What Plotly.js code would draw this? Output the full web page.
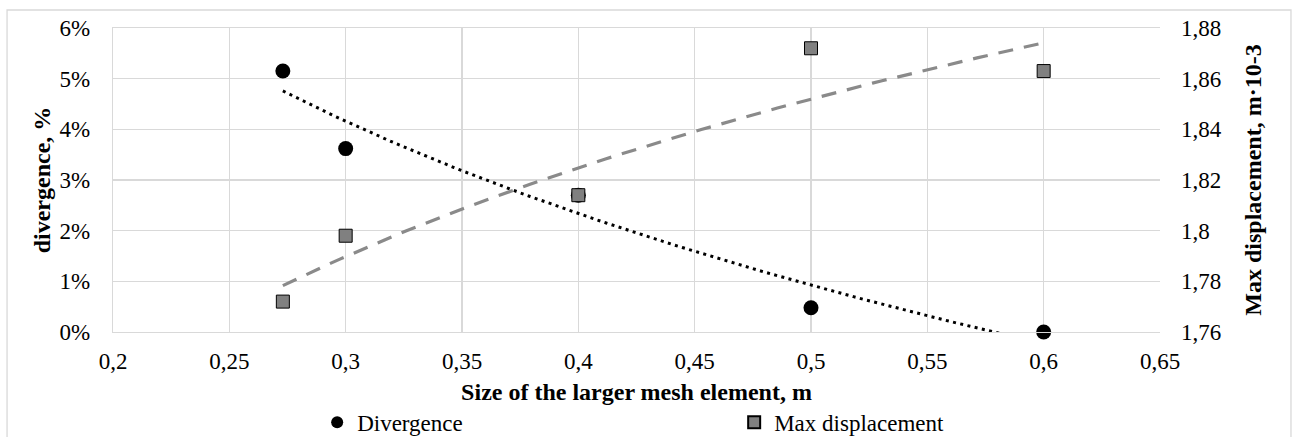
<!DOCTYPE html>
<html>
<head>
<meta charset="utf-8">
<script src="https://cdn.plot.ly/plotly-3.0.1.min.js"></script>
<style>html,body{margin:0;padding:0;background:#fff;}#chart{width:1296px;height:437px;}</style>
</head>
<body>
<div id="chart"></div>
<script>
// Data
const meshSize = [0.273, 0.3, 0.4, 0.5, 0.6];
const divergence = [0.0515, 0.0362, 0.027, 0.0048, 0.0];
const maxDisplacement = [1.772, 1.798, 1.814, 1.872, 1.863];
const xTicks = [0.2, 0.25, 0.3, 0.35, 0.4, 0.45, 0.5, 0.55, 0.6, 0.65];

// Logarithmic trendline (least squares of y on ln x), as in the source spreadsheet
function logTrend(xs, ys) {
  const L = xs.map(Math.log);
  const n = xs.length;
  const mL = L.reduce((a, b) => a + b, 0) / n;
  const mY = ys.reduce((a, b) => a + b, 0) / n;
  let sxy = 0, sxx = 0;
  for (let i = 0; i < n; i++) { sxy += (L[i] - mL) * (ys[i] - mY); sxx += (L[i] - mL) * (L[i] - mL); }
  const b = sxy / sxx, a = mY - b * mL;
  const x0 = Math.min(...xs), x1 = Math.max(...xs);
  const tx = [], ty = [];
  const N = 80;
  for (let k = 0; k <= N; k++) { const x = x0 + (x1 - x0) * k / N; tx.push(x); ty.push(a + b * Math.log(x)); }
  return {x: tx, y: ty};
}
const tDiv = logTrend(meshSize, divergence);
const tDisp = logTrend(meshSize, maxDisplacement);

const FONT = "'Liberation Serif', 'Times New Roman', serif";
const GRID = '#d9d9d9';

const traces = [
  {x: tDiv.x, y: tDiv.y, type: 'scatter', mode: 'lines', yaxis: 'y', showlegend: false, hoverinfo: 'skip',
   line: {color: '#000', width: 3, dash: '3px,4.4px'}},
  {x: meshSize, y: divergence, type: 'scatter', mode: 'markers', name: 'Divergence', yaxis: 'y', cliponaxis: false,
   marker: {symbol: 'circle', size: 15, color: '#000'}},
  {x: tDisp.x, y: tDisp.y, type: 'scatter', mode: 'lines', yaxis: 'y2', showlegend: false, hoverinfo: 'skip',
   line: {color: '#8a8a8a', width: 3.2, dash: '15px,11px'}},
  {x: meshSize, y: maxDisplacement, type: 'scatter', mode: 'markers', name: 'Max displacement', yaxis: 'y2', cliponaxis: false,
   marker: {symbol: 'square', size: 13, color: '#808080', line: {color: '#000', width: 1}}}
];

const layout = {
  width: 1296, height: 437,
  margin: {l: 113, r: 136, t: 28, b: 105, autoexpand: false},
  paper_bgcolor: '#fff', plot_bgcolor: '#fff',
  separators: ', ',
  font: {family: FONT, size: 23, color: '#000'},
  showlegend: true,
  xaxis: {
    range: [0.2, 0.65], tickvals: xTicks, ticktext: xTicks.map(v => String(v).replace('.', ',')),
    showgrid: true, gridcolor: GRID, gridwidth: 1.3, zeroline: false,
    showline: true, linecolor: GRID, linewidth: 1.3, mirror: true,
    ticks: '', ticklabelstandoff: 8, automargin: false,
    tickfont: {family: FONT, size: 23, color: '#000'},
    title: {text: '<b>Size of the larger mesh element, m</b>', font: {family: FONT, size: 24, color: '#000'}, standoff: 10}
  },
  yaxis: {
    range: [0, 0.06], dtick: 0.01, tick0: 0, tickformat: '.0%',
    showgrid: true, gridcolor: GRID, gridwidth: 1.3, zeroline: false,
    showline: true, linecolor: GRID, linewidth: 1.3,
    ticks: '', ticklabelstandoff: 17, automargin: false,
    tickfont: {family: FONT, size: 23, color: '#000'},
    title: {text: '<b>divergence, %</b>', font: {family: FONT, size: 24, color: '#000'}, standoff: 2}
  },
  yaxis2: {
    range: [1.76, 1.88], dtick: 0.02, tick0: 1.76, overlaying: 'y', side: 'right',
    showgrid: false, zeroline: false, showline: false,
    ticks: '', ticklabelstandoff: 20, automargin: false,
    tickfont: {family: FONT, size: 23, color: '#000'},
    title: {text: '<b>Max displacement, m·10-3</b>', font: {family: FONT, size: 24, color: '#000'}, standoff: 23}
  },
  legend: {
    orientation: 'h', x: 0.195, xanchor: 'left', y: -0.297, yanchor: 'middle',
    entrywidth: 372, entrywidthmode: 'pixels', traceorder: 'normal',
    font: {family: FONT, size: 23, color: '#000'}, bgcolor: 'rgba(0,0,0,0)', itemsizing: 'constant'
  },
  shapes: [
    {type: 'rect', xref: 'paper', yref: 'paper', x0: -0.1012, x1: 1.1251, y0: -0.40, y1: 1.0592,
     line: {color: GRID, width: 1.3}, fillcolor: 'rgba(0,0,0,0)', layer: 'below'}
  ]
};

Plotly.newPlot('chart', traces, layout, {displayModeBar: false, staticPlot: true});
</script>
</body>
</html>
